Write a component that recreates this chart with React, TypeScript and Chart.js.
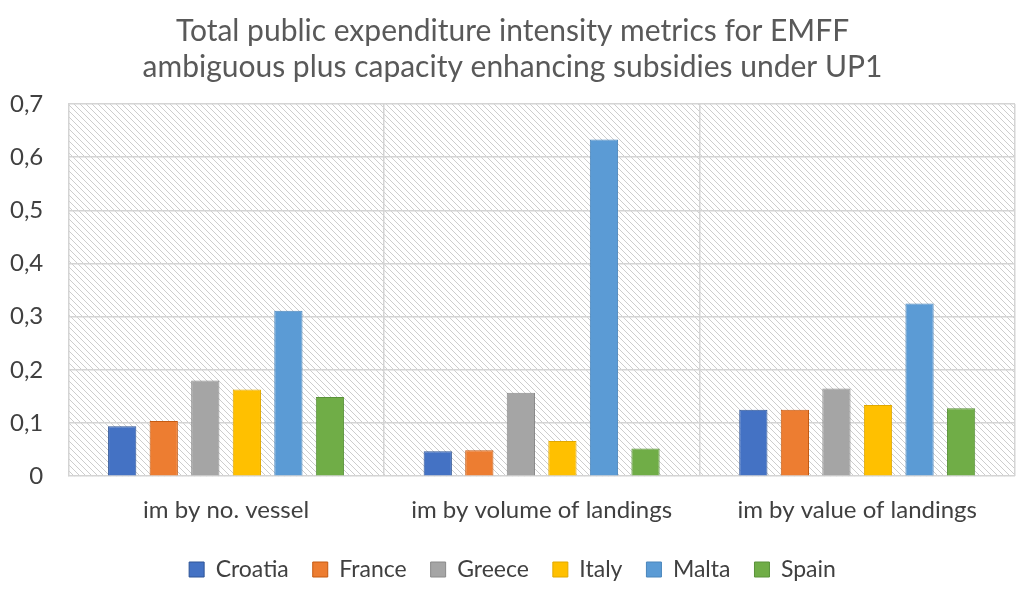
import { useEffect, useRef } from "react"
import { Chart, registerables } from "chart.js"

Chart.register(...registerables)

const categories = ["im by no. vessel", "im by volume of landings", "im by value of landings"]
const croatia = [0.094, 0.047, 0.125]
const france = [0.104, 0.049, 0.125]
const greece = [0.18, 0.157, 0.165]
const italy = [0.163, 0.066, 0.134]
const malta = [0.311, 0.633, 0.325]
const spain = [0.149, 0.052, 0.128]

const titleLines = [
  "Total public expenditure intensity metrics for EMFF",
  "ambiguous plus capacity enhancing subsidies under UP1",
]

const FONT = "Lato, 'Open Sans', sans-serif"

// diagonal hatch behind the plot area
const hatchPlugin = {
  id: "hatch",
  beforeDraw(chart: Chart) {
    const { ctx, chartArea } = chart
    if (!chartArea) return
    const tile = document.createElement("canvas")
    tile.width = 6
    tile.height = 6
    const t = tile.getContext("2d")
    if (!t) return
    t.strokeStyle = "#cdcdcd"
    t.lineWidth = 1
    t.beginPath()
    t.moveTo(-1, -1)
    t.lineTo(7, 7)
    t.moveTo(-1, 5)
    t.lineTo(1, 7)
    t.moveTo(5, -1)
    t.lineTo(7, 1)
    t.stroke()
    const pattern = ctx.createPattern(tile, "repeat")
    if (!pattern) return
    ctx.save()
    ctx.fillStyle = pattern
    ctx.fillRect(chartArea.left, chartArea.top, chartArea.right - chartArea.left, chartArea.bottom - chartArea.top)
    ctx.restore()
  },
}

function ds(label: string, data: number[], color: string, edge: string) {
  return {
    label,
    data,
    backgroundColor: color,
    borderColor: edge,
    borderWidth: 1,
    barPercentage: 0.68,
    categoryPercentage: 0.79,
  }
}

export default function App() {
  const chartRef = useRef<HTMLCanvasElement>(null)
  const chartInstance = useRef<Chart | null>(null)

  useEffect(() => {
    document.body.style.margin = "0"
    if (!chartRef.current) return
    if (chartInstance.current) chartInstance.current.destroy()
    const ctx = chartRef.current.getContext("2d")
    if (!ctx) return

    chartInstance.current = new Chart(ctx, {
      type: "bar",
      data: {
        labels: categories,
        datasets: [
          ds("Croatia", croatia, "#4472C4", "#2f5597"),
          ds("France", france, "#ED7D31", "#c55a11"),
          ds("Greece", greece, "#A5A5A5", "#8a8a8a"),
          ds("Italy", italy, "#FFC000", "#e0a800"),
          ds("Malta", malta, "#5B9BD5", "#4a85bb"),
          ds("Spain", spain, "#70AD47", "#5a923a"),
        ],
      },
      options: {
        responsive: true,
        maintainAspectRatio: false,
        animation: false,
        layout: { padding: { left: 10, right: 6, top: 0, bottom: -2 } },
        plugins: {
          title: {
            display: true,
            text: titleLines,
            color: "#595959",
            font: { family: FONT, size: 30, weight: "normal", lineHeight: 1.2 },
            padding: { top: 13, bottom: 19 },
          },
          legend: {
            display: true,
            position: "bottom",
            labels: {
              color: "#404040",
              boxWidth: 15,
              boxHeight: 15,
              padding: 24,
              font: { family: FONT, size: 23 },
            },
          },
          tooltip: { enabled: false },
        },
        scales: {
          x: {
            grid: { color: "#d4d4d4", lineWidth: 1.5, drawTicks: false, offset: true },
            border: { display: false },
            ticks: { color: "#404040", padding: 20, font: { family: FONT, size: 24 } },
            afterFit: (scale) => {
              scale.height -= 11
            },
          },
          y: {
            min: 0,
            max: 0.7,
            grid: { color: "#d4d4d4", lineWidth: 1.5, drawTicks: false },
            border: { display: false },
            ticks: {
              stepSize: 0.1,
              color: "#404040",
              padding: 25,
              font: { family: FONT, size: 24 },
              callback: (v) => (Number(v) === 0 ? "0" : Number(v).toFixed(1).replace(".", ",")),
            },
            afterFit: (scale) => {
              scale.width -= 25
            },
          },
        },
      },
      plugins: [hatchPlugin],
    })

    return () => {
      if (chartInstance.current) chartInstance.current.destroy()
    }
  }, [])

  return (
    <div style={{ width: 1021, height: 589, background: "#fff" }}>
      <canvas ref={chartRef} />
    </div>
  )
}
